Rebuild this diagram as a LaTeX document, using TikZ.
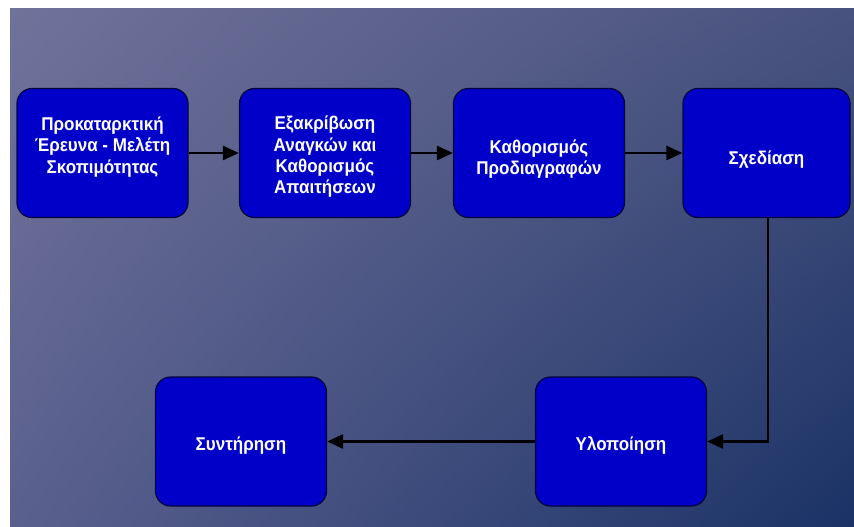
\documentclass[tikz,border=0pt]{standalone}
\usepackage{fontspec}
\setmainfont{Liberation Sans}
\newfontfamily\stagefont[FakeStretch=0.92]{Liberation Sans}
\usetikzlibrary{arrows.meta,shadings}
\definecolor{bgUL}{RGB}{112,114,154}
\definecolor{bgUR}{RGB}{72,82,126}
\definecolor{bgLL}{RGB}{90,96,142}
\definecolor{bgLR}{RGB}{26,50,102}
\definecolor{boxfill}{RGB}{0,0,200}
\definecolor{boxline}{RGB}{5,5,60}
\tikzset{
  stagebox/.style={draw=boxline, line width=1.2pt, fill=boxfill, rounded corners=15pt,
    minimum width=171pt, minimum height=129pt, inner sep=0pt},
  stagetext/.style={text=white, font=\stagefont\bfseries\fontsize{18.5}{21.3}\selectfont,
    align=center, inner sep=0pt},
  flow/.style={line width=2.6pt, draw=black, -{Triangle[length=16pt,width=14pt]}}
}
\begin{document}
\begin{tikzpicture}[x=1pt,y=-1pt]
  % page and gradient background
  \fill[white] (0,0) rectangle (854,527);
  \useasboundingbox (0,0) rectangle (854,527);
  \shade[upper left=bgUL, upper right=bgUR, lower left=bgLL, lower right=bgLR]
    (10,9) rectangle (854,527);

  % process stages
  \node[stagebox, label={[stagetext, yshift=6pt]center:{Προκαταρκτική\\Έρευνα - Μελέτη\\Σκοπιμότητας}}]
    (pre) at (102.5,153) {};
  \node[stagebox, label={[stagetext, yshift=-4pt]center:{Εξακρίβωση\\Αναγκών και\\Καθορισμός\\Απαιτήσεων}}]
    (req) at (325,153) {};
  \node[stagebox, label={[stagetext, yshift=-6pt]center:{Καθορισμός\\Προδιαγραφών}}]
    (spec) at (539,153) {};
  \node[stagebox, minimum width=167pt, label={[stagetext, yshift=-7pt]center:{Σχεδίαση}}]
    (des) at (766.5,153) {};
  \node[stagebox, label={[stagetext, yshift=-4pt]center:{Υλοποίηση}}]
    (impl) at (621,441.5) {};
  \node[stagebox, label={[stagetext, yshift=-4pt]center:{Συντήρηση}}]
    (mnt) at (241,441.5) {};

  % connectors
  \draw[flow] (pre.east) -- (req.west);
  \draw[flow] (req.east) -- (spec.west);
  \draw[flow] (spec.east) -- (des.west);
  \coordinate (turn) at ([xshift=1.5pt]des.south |- impl.east);
  \draw[flow] ([xshift=1.5pt]des.south) -- (turn) -- (impl.east);
  \draw[flow] (impl.west) -- (mnt.east);
\end{tikzpicture}
\end{document}
